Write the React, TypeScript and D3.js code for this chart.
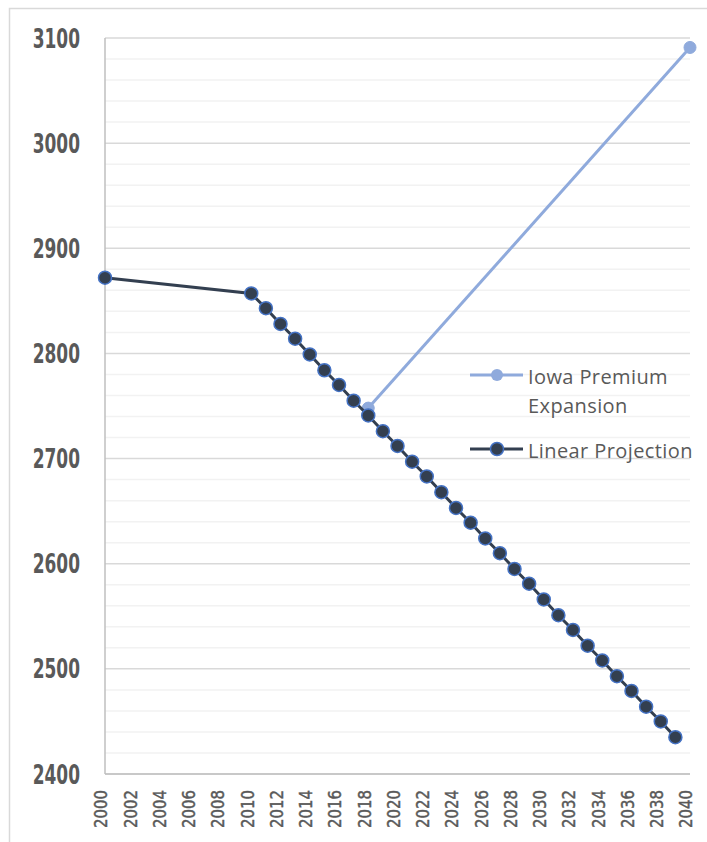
import React from "react";
import * as d3 from "d3";

// Yearly values for the two series
const linearYears = [2000, 2010, 2011, 2012, 2013, 2014, 2015, 2016, 2017, 2018, 2019, 2020, 2021, 2022, 2023, 2024, 2025, 2026, 2027, 2028, 2029, 2030, 2031, 2032, 2033, 2034, 2035, 2036, 2037, 2038, 2039];
const linearValues = [2872, 2857, 2843, 2828, 2814, 2799, 2784, 2770, 2755, 2741, 2726, 2712, 2697, 2683, 2668, 2653, 2639, 2624, 2610, 2595, 2581, 2566, 2551, 2537, 2522, 2508, 2493, 2479, 2464, 2450, 2435];
const iowaYears = [2018, 2040];
const iowaValues = [2748, 3091];

const yTicks = [2400, 2500, 2600, 2700, 2800, 2900, 3000, 3100];
const xTickYears = d3.range(2000, 2041, 2);

const W = 707;
const H = 842;

export default function App() {
  const x = d3.scaleLinear().domain([2000, 2040]).range([105, 690]);
  const y = d3.scaleLinear().domain([2400, 3100]).range([774, 38]);
  const minorTicks = d3.range(2400, 3101, 20).filter((v) => v % 100 !== 0);

  const linear = linearYears.map((yr, i) => ({ yr, v: linearValues[i] }));
  const iowa = iowaYears.map((yr, i) => ({ yr, v: iowaValues[i] }));
  const line = d3
    .line<{ yr: number; v: number }>()
    .x((d) => x(d.yr))
    .y((d) => y(d.v));

  const navy = "#333F50";
  const ring = "#4472C4";
  const light = "#8FAADC";
  const textGray = "#595959";

  return (
    <div style={{ position: "absolute", left: 0, top: 0 }}>
      <svg width={W} height={H} style={{ display: "block", background: "#fff" }}>
        {/* chart frame */}
        <rect x={9.5} y={8.5} width={720} height={860} fill="none" stroke="#D9D9D9" strokeWidth={1.5} />

        {/* minor gridlines */}
        {minorTicks.map((v) => (
          <line key={"m" + v} x1={105} x2={690} y1={y(v)} y2={y(v)} stroke="#F2F2F2" strokeWidth={1.5} />
        ))}
        {/* major gridlines */}
        {yTicks.map((v) => (
          <line key={"g" + v} x1={105} x2={690} y1={y(v)} y2={y(v)} stroke="#D9D9D9" strokeWidth={1.5} />
        ))}
        {/* axes */}
        <line x1={105} x2={105} y1={38} y2={774} stroke="#BFBFBF" strokeWidth={1.5} />
        <line x1={105} x2={690} y1={774} y2={774} stroke="#BFBFBF" strokeWidth={1.5} />

        {/* y labels */}
        {yTicks.map((v) => (
          <text
            key={"yl" + v}
            transform={`translate(80, ${y(v)}) scale(0.63, 1)`}
            textAnchor="end"
            dominantBaseline="central"
            fontFamily="DejaVu Sans"
            fontWeight="bold"
            fontSize={27}
            fill={textGray}
          >
            {v}
          </text>
        ))}

        {/* x labels */}
        {xTickYears.map((yr) => (
          <text
            key={"xl" + yr}
            transform={`translate(${x(yr) - 3.5}, 790) rotate(-90) scale(0.83, 1)`}
            textAnchor="end"
            dominantBaseline="central"
            fontFamily="DejaVu Sans"
            fontSize={18}
            fill={textGray}
            stroke={textGray}
            strokeWidth={0.45}
          >
            {yr}
          </text>
        ))}

        {/* Iowa Premium Expansion */}
        <path d={line(iowa) || ""} fill="none" stroke={light} strokeWidth={3} />
        {iowa.map((d) => (
          <circle key={"i" + d.yr} cx={x(d.yr)} cy={y(d.v)} r={6} fill={light} stroke={light} strokeWidth={1} />
        ))}

        {/* Linear Projection */}
        <path d={line(linear) || ""} fill="none" stroke={navy} strokeWidth={3} />
        {linear.map((d) => (
          <circle key={"l" + d.yr} cx={x(d.yr)} cy={y(d.v)} r={6.5} fill={navy} stroke={ring} strokeWidth={1.5} />
        ))}

        {/* legend */}
        <g fontFamily="Open Sans" fontSize={20} letterSpacing={0.4} fill={textGray}>
          <line x1={470} x2={523} y1={375} y2={375} stroke={light} strokeWidth={3} />
          <circle cx={497} cy={375} r={6} fill={light} />
          <text x={528} y={376} dominantBaseline="central">Iowa Premium</text>
          <text x={528} y={405} dominantBaseline="central">Expansion</text>
          <line x1={470} x2={523} y1={449} y2={449} stroke={navy} strokeWidth={3} />
          <circle cx={497} cy={449} r={6.5} fill={navy} stroke={ring} strokeWidth={1.5} />
          <text x={528} y={450} dominantBaseline="central">Linear Projection</text>
        </g>
      </svg>
    </div>
  );
}
